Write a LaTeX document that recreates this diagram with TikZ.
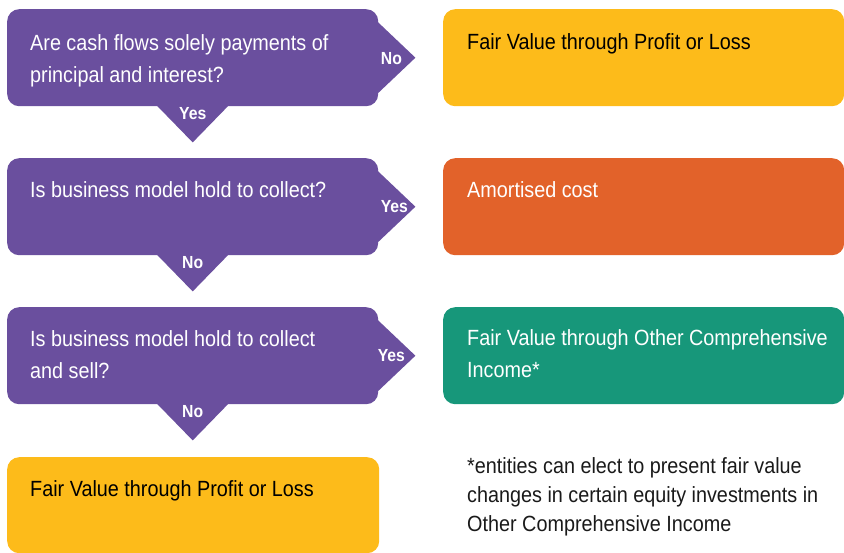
\documentclass[tikz,border=0pt]{standalone}
\usepackage{fontspec}
\setmainfont{Liberation Sans}[FakeStretch=0.9]
\usetikzlibrary{calc}
\definecolor{qpurple}{HTML}{6A4F9E}
\definecolor{ryellow}{HTML}{FDBB1A}
\definecolor{rorange}{HTML}{E2622A}
\definecolor{rteal}{HTML}{17977A}
\definecolor{notegray}{HTML}{1A1A1A}
\newcommand\tstr{\rule{0pt}{20pt}}
\begin{document}
\begin{tikzpicture}[x=1pt,y=1pt,
  card/.style={rounded corners=12pt, inner sep=0pt, draw=none, anchor=north west},
  qcard/.style={card, fill=qpurple, minimum width=371pt, minimum height=97pt},
  rcard/.style={card, minimum width=401pt, minimum height=97pt},
  boxtext/.style={anchor=north west, inner sep=0pt, align=left, font=\fontsize{22}{32}\selectfont},
  lbl/.style={inner sep=0pt, text=white, font=\bfseries\fontsize{17.5}{17.5}\selectfont},
  tip/.style={fill=qpurple}]
\useasboundingbox (0,0) rectangle (844,-552);

% question cards
\node[qcard] (q1) at (7,-9) {};
\node[qcard] (q2) at (7,-158) {};
\node[qcard] (q3) at (7,-307) {};

% arrows of the question cards
\foreach \q in {q1,q2,q3}{
  \fill[tip] ($(\q.east)+(-2,37)$) -- ($(\q.east)+(37,0)$) -- ($(\q.east)+(-2,-37)$) -- cycle;
  \fill[tip] ($(\q.south)+(-37,2)$) -- ($(\q.south)+(0,-36)$) -- ($(\q.south)+(37,2)$) -- cycle;
}

% result cards
\node[rcard, fill=ryellow] (r1) at (443,-9) {};
\node[rcard, fill=rorange] (r2) at (443,-158) {};
\node[rcard, fill=rteal] (r3) at (443,-307) {};
\node[card, fill=ryellow, minimum width=372pt, minimum height=96pt] (r4) at (7,-457) {};

% texts
\node[boxtext, text=white] (q1t) at (30,-30) {\tstr Are cash flows solely payments of\\principal and interest?};
\node[boxtext, text=white] (q2t) at (30,-177) {\tstr Is business model hold to collect?};
\node[boxtext, text=white] (q3t) at (30,-326) {\tstr Is business model hold to collect\\and sell?};
\node[boxtext, text=black] (r4t) at (30,-476) {\tstr Fair Value through Profit or Loss};
\node[boxtext, text=black] (r1t) at (467,-29) {\tstr Fair Value through Profit or Loss};
\node[boxtext, text=white] (r2t) at (467,-177) {\tstr Amortised cost};
\node[boxtext, text=white] (r3t) at (467,-325) {\tstr Fair Value through Other Comprehensive\\Income*};
\node[boxtext, text=notegray, font=\fontsize{22}{29}\selectfont] (note) at (467,-453)
  {\tstr *entities can elect to present fair value\\changes in certain equity investments in\\Other Comprehensive Income};

% labels
\node[lbl] (l1r) at ($(q1.east)+(13,-0.5)$) {No};
\node[lbl] (l1d) at ($(q1.south)+(0,-7)$) {Yes};
\node[lbl] (l2r) at ($(q2.east)+(16,0)$) {Yes};
\node[lbl] (l2d) at ($(q2.south)+(0,-7)$) {No};
\node[lbl] (l3r) at ($(q3.east)+(13,0)$) {Yes};
\node[lbl] (l3d) at ($(q3.south)+(0,-7)$) {No};
\end{tikzpicture}
\end{document}
